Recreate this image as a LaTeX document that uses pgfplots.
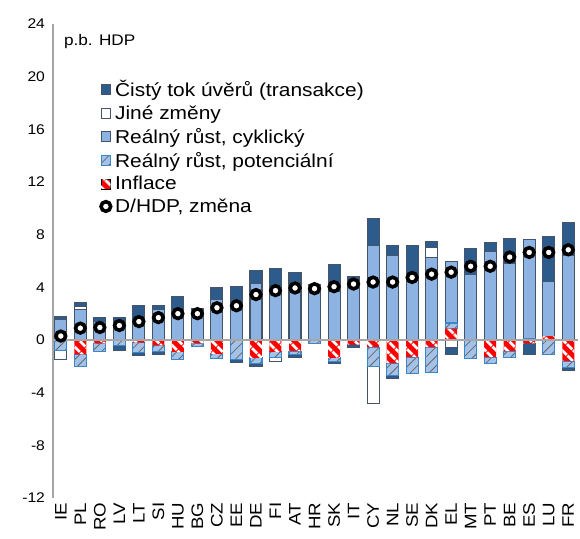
\documentclass[border=0pt]{standalone}
\usepackage{fontspec}
\setmainfont{Liberation Sans}[FakeStretch=1.12]
\usepackage{pgfplots}
\pgfplotsset{compat=1.18}
\usepackage{pgfplotstable}
\usetikzlibrary{patterns.meta}

\definecolor{dkblue}{HTML}{2D5B8C}
\definecolor{ltblue}{HTML}{8DB3E2}
\definecolor{edgegray}{HTML}{44546A}
\definecolor{hatchfill}{HTML}{A4C2E8}
\definecolor{hatchedge}{HTML}{3A86C8}
\definecolor{axgray}{HTML}{A6A6A6}

% kladne casti (poradi skladani od nuly: inflace, potencialni, cyklicky, jine, tok)
\pgfplotstableread{
x inf pot cyk jin cis
0 0 0 1.55 0 0.25
1 0 0 2.35 0.2 0.3
2 0 0 1.4 0 0.3
3 0 0 1.4 0 0.3
4 0 0 1.55 0 1.05
5 0 0 2.3 0 0.3
6 0 0 2.35 0 0.95
7 0 0 2.3 0 0.1
8 0 0 3.05 0 0.9
9 0 0 3.0 0 1.05
10 0 0 4.3 0 0.95
11 0 0 4.15 0 1.3
12 0 0 4.35 0 0.75
13 0 0 4.25 0 0
14 0 0 3.7 0 2.05
15 0 0 4.55 0 0.25
16 0 0 7.2 0 2.0
17 0 0 6.4 0 0.8
18 0 0 4.5 0 2.7
19 0 0 6.25 0.8 0.45
20 0.86 0.43 4.7 0 0
21 0 0 4.95 0 2.0
22 0 0 6.75 0 0.65
23 0 0 5.85 0 1.85
24 0 0.1 7.55 0 0
25 0.3 0 4.15 0 3.4
26 0 0 6.45 0 2.45
}\posdata

% zaporne casti
\pgfplotstableread{
x inf pot jin cis
0 0 -0.8 -0.7 0
1 -1.1 -0.9 0 0
2 -0.25 -0.6 0 0
3 0 -0.45 0 -0.35
4 -0.2 -0.75 0 -0.25
5 -0.4 -0.5 0 -0.2
6 -0.9 -0.55 0 0
7 -0.25 -0.25 0 0
8 -1.05 -0.35 0 0
9 0 -1.5 0 -0.2
10 -1.35 -0.45 0 -0.2
11 -0.9 -0.45 -0.3 0
12 -0.85 -0.25 0 -0.25
13 0 -0.3 0 0
14 -1.35 -0.25 0 -0.2
15 -0.35 0 0 -0.25
16 -0.55 -1.45 -2.85 0
17 -1.75 -0.95 0 -0.2
18 -1.3 -1.25 0 0
19 -0.55 -1.9 0 0
20 0 0 -0.55 -0.55
21 0 -1.4 0 0
22 -1.3 -0.5 0 0
23 -0.85 -0.5 0 0
24 -0.25 0 0 -0.85
25 0 -1.1 0 0
26 -1.6 -0.5 0 -0.2
}\negdata

% D/HDP, zmena
\pgfplotstableread{
x d
0 0.3
1 0.9
2 0.95
3 1.1
4 1.4
5 1.7
6 2.0
7 2.0
8 2.45
9 2.6
10 3.45
11 3.75
12 3.95
13 3.9
14 4.05
15 4.25
16 4.4
17 4.4
18 4.75
19 5.0
20 5.15
21 5.6
22 5.6
23 6.3
24 6.65
25 6.65
26 6.85
}\dotdata

\pgfplotsset{
  base/.style={
    scale only axis, width=393.75pt, height=355.5pt,
    anchor=south west, at={(0pt,0pt)},
    xmin=-0.4, xmax=26.5, ymin=-12, ymax=24,
  },
  barInf/.style={fill=red, draw=none,
    postaction={pattern={Lines[angle=-45,distance=6.5pt,line width=2.4pt]}, pattern color=white}},
  barPot/.style={fill=hatchfill, draw=hatchedge, line width=0.8pt,
    postaction={pattern={Lines[angle=45,distance=5pt,line width=0.6pt]}, pattern color=black!60}},
  barCyk/.style={fill=ltblue, draw=edgegray, line width=0.8pt},
  barJin/.style={fill=white, draw=edgegray, line width=0.8pt},
  barCis/.style={fill=dkblue, draw=edgegray, line width=0.8pt},
  sq/.style={legend image code/.code={\draw[##1] (0pt,-3.6pt) rectangle (7.2pt,3.6pt);}},
}

\begin{document}
\begin{tikzpicture}
\useasboundingbox (-39.75pt,-30pt) rectangle (395.25pt,373.5pt);

\begin{axis}[base, hide axis, ybar stacked, bar width=9pt]
\addplot[barInf] table[x=x,y=inf]{\negdata};
\addplot[barPot] table[x=x,y=pot]{\negdata};
\addplot[barJin] table[x=x,y=jin]{\negdata};
\addplot[barCis] table[x=x,y=cis]{\negdata};
\end{axis}

\begin{axis}[base, ybar stacked, bar width=9pt,
    axis lines*=left,
    x axis line style={draw=none},
    y axis line style={axgray, line width=1.5pt},
    major tick length=0pt,
    ytick={-12,-8,...,24},
    xtick={0,...,26},
    xticklabels={IE,PL,RO,LV,LT,SI,HU,BG,CZ,EE,DE,FI,AT,HR,SK,IT,CY,NL,SE,DK,EL,MT,PT,BE,ES,LU,FR},
    /pgf/number format/assume math mode=true,
    tick label style={font=\fontsize{10.5}{12}\selectfont},
    yticklabel style={xshift=-2.5pt},
    xticklabel style={rotate=90, anchor=east, font=\fontsize{12.5}{13}\selectfont},
    reverse legend,
    legend cell align=left,
    legend style={at={(0.08,0.893)}, anchor=north west, draw=none, fill=none,
      font=\fontsize{14}{16}\selectfont, row sep=1.2pt},
  ]
\addlegendimage{legend image code/.code={\path[draw=black, fill=white, line width=2.7pt] (3.6pt,0pt) circle[radius=3.6pt];}}
\addlegendentry{D/HDP, změna}
\addplot[barInf, sq] table[x=x,y=inf]{\posdata};
\addlegendentry{Inflace}
\addplot[barPot, sq] table[x=x,y=pot]{\posdata};
\addlegendentry{Reálný růst, potenciální}
\addplot[barCyk, sq] table[x=x,y=cyk]{\posdata};
\addlegendentry{Reálný růst, cyklický}
\addplot[barJin, sq] table[x=x,y=jin]{\posdata};
\addlegendentry{Jiné změny}
\addplot[barCis, sq] table[x=x,y=cis]{\posdata};
\addlegendentry{Čistý tok úvěrů (transakce)}
\node[anchor=west, font=\fontsize{11.5}{12}\selectfont] at (axis description cs:0.012,0.962) {p.b. HDP};
\end{axis}

\begin{axis}[base, hide axis]
\addplot[axgray, line width=1.5pt] coordinates {(-0.4,0) (26.5,0)};
\addplot[only marks, mark=*, mark size=3.6pt,
  mark options={fill=white, draw=black, line width=2.7pt}] table[x=x,y=d]{\dotdata};
\end{axis}
\end{tikzpicture}
\end{document}
